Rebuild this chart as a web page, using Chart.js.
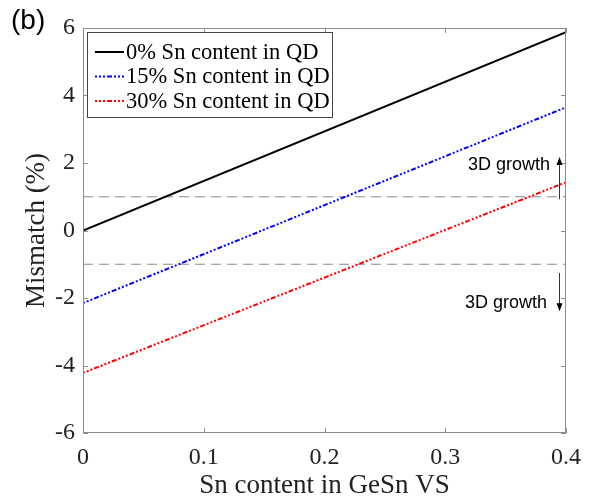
<!DOCTYPE html>
<html>
<head>
<meta charset="utf-8">
<script src="https://cdn.jsdelivr.net/npm/chart.js@4/dist/chart.umd.min.js"></script>
<style>
  html, body { margin: 0; padding: 0; background: #fff; }
  #wrap { width: 593px; height: 502px; position: relative; }
</style>
</head>
<body>
<div id="wrap"><canvas id="myChart"></canvas></div>
<script>
// data
const snVS = [0, 0.4];
const qd0 = [0, 5.88];
const qd15 = [-2.15, 3.65];
const qd30 = [-4.22, 1.43];
const growthLimits = [1, -1];
const xTicks = [0, 0.1, 0.2, 0.3, 0.4];
const yTicks = [-6, -4, -2, 0, 2, 4, 6];
const seriesNames = ['0% Sn content in QD', '15% Sn content in QD', '30% Sn content in QD'];

const serif = '"Liberation Serif", "Times New Roman", serif';
const sans = '"Liberation Sans", Arial, sans-serif';
const frameColor = '#8c8c8c';

function pts(ys) {
    return snVS.map((x, i) => ({ x: x, y: ys[i] }));
}

const dotDash = [2, 2, 2, 2, 2, 2, 5, 2];
const lineStyles = [
    { color: '#000000', dash: [] },
    { color: '#0000ff', dash: dotDash },
    { color: '#ff0000', dash: dotDash }
];

const datasets = [qd0, qd15, qd30].map((ys, i) => ({
    label: seriesNames[i],
    data: pts(ys),
    borderColor: lineStyles[i].color,
    borderDash: lineStyles[i].dash,
    borderWidth: 2,
    pointRadius: 0,
    fill: false
}));
growthLimits.forEach(v => {
    datasets.push({
        label: 'limit',
        data: snVS.map(x => ({ x: x, y: v })),
        borderColor: '#8a8a8a',
        borderDash: [10, 6],
        borderWidth: 1,
        pointRadius: 0,
        fill: false
    });
});

// frame, inner ticks, legend box, annotations
const decor = {
    id: 'decor',
    afterDatasetsDraw(chart) {
        const ctx = chart.ctx;
        const a = chart.chartArea;
        const xs = chart.scales.x, ys = chart.scales.y;
        ctx.save();
        ctx.strokeStyle = frameColor;
        ctx.lineWidth = 1;
        ctx.setLineDash([]);
        ctx.strokeRect(a.left + 0.5, a.top + 0.5, a.right - a.left - 1, a.bottom - a.top - 1);
        ctx.beginPath();
        xTicks.forEach(t => {
            const px = Math.round(xs.getPixelForValue(t)) + 0.5;
            ctx.moveTo(px, a.bottom); ctx.lineTo(px, a.bottom - 5);
            ctx.moveTo(px, a.top); ctx.lineTo(px, a.top + 5);
        });
        yTicks.forEach(t => {
            const py = Math.round(ys.getPixelForValue(t)) + 0.5;
            ctx.moveTo(a.left, py); ctx.lineTo(a.left + 5, py);
            ctx.moveTo(a.right, py); ctx.lineTo(a.right - 5, py);
        });
        ctx.stroke();

        // legend
        const lx = 87, ly = 32, lw = 245, lh = 85;
        ctx.fillStyle = '#fff';
        ctx.fillRect(lx, ly, lw, lh);
        ctx.strokeStyle = '#444';
        ctx.strokeRect(lx + 0.5, ly + 0.5, lw, lh);
        ctx.font = '22.5px ' + serif;
        ctx.textBaseline = 'middle';
        seriesNames.forEach((name, i) => {
            const y = ly + 20 + i * 24.5;
            ctx.strokeStyle = lineStyles[i].color;
            ctx.lineWidth = 2;
            ctx.setLineDash(lineStyles[i].dash);
            ctx.beginPath();
            ctx.moveTo(lx + 8, y); ctx.lineTo(lx + 37, y);
            ctx.stroke();
            ctx.fillStyle = '#000';
            ctx.fillText(name, lx + 39, y + 1);
        });
        ctx.setLineDash([]);

        // 3D growth annotations
        const ax = a.right - 7;
        ctx.strokeStyle = '#333';
        ctx.fillStyle = '#000';
        ctx.lineWidth = 1;
        const upFrom = ys.getPixelForValue(0.93), upTo = ys.getPixelForValue(2.15);
        const dnFrom = ys.getPixelForValue(-1.26), dnTo = ys.getPixelForValue(-2.36);
        ctx.beginPath();
        ctx.moveTo(ax + 0.5, upFrom); ctx.lineTo(ax + 0.5, upTo);
        ctx.moveTo(ax + 0.5, dnFrom); ctx.lineTo(ax + 0.5, dnTo);
        ctx.stroke();
        ctx.beginPath();
        ctx.moveTo(ax + 0.5, upTo - 1); ctx.lineTo(ax - 2.5, upTo + 7); ctx.lineTo(ax + 3.5, upTo + 7); ctx.closePath();
        ctx.moveTo(ax + 0.5, dnTo + 1); ctx.lineTo(ax - 2.5, dnTo - 7); ctx.lineTo(ax + 3.5, dnTo - 7); ctx.closePath();
        ctx.fill();
        ctx.font = '18px ' + sans;
        ctx.textAlign = 'right';
        ctx.fillText('3D growth', 550, ys.getPixelForValue(1.94));
        ctx.fillText('3D growth', 547, ys.getPixelForValue(-2.15));

        // panel tag
        ctx.textAlign = 'left';
        ctx.textBaseline = 'alphabetic';
        ctx.font = '28px ' + sans;
        ctx.fillText('(b)', 11, 29);
        ctx.restore();
    }
};

const ctx = document.getElementById('myChart').getContext('2d');
const myChart = new Chart(ctx, {
    type: 'line',
    data: { datasets: datasets },
    options: {
        responsive: true,
        maintainAspectRatio: false,
        animation: false,
        layout: { padding: { top: 28, right: 27, left: 0, bottom: 0 } },
        plugins: {
            legend: { display: false },
            tooltip: { enabled: false }
        },
        scales: {
            x: {
                type: 'linear',
                min: 0,
                max: 0.4,
                afterBuildTicks: s => { s.ticks = xTicks.map(v => ({ value: v })); },
                afterFit: s => { s.height = 69; },
                grid: { display: false, drawTicks: false },
                border: { display: false },
                ticks: {
                    color: '#222',
                    font: { family: serif, size: 24 },
                    padding: 10,
                    maxRotation: 0,
                    callback: v => String(v)
                },
                title: {
                    display: true,
                    text: 'Sn content in GeSn VS',
                    color: '#222',
                    font: { family: serif, size: 27 },
                    padding: { top: 0, bottom: 0 }
                }
            },
            y: {
                type: 'linear',
                min: -6,
                max: 6,
                afterBuildTicks: s => { s.ticks = yTicks.map(v => ({ value: v })); },
                afterFit: s => { s.width = 83; },
                grid: { display: false, drawTicks: false },
                border: { display: false },
                ticks: {
                    color: '#222',
                    font: { family: serif, size: 24 },
                    padding: 8,
                    callback: v => String(v)
                },
                title: {
                    display: true,
                    text: 'Mismatch (%)',
                    color: '#222',
                    font: { family: serif, size: 27 },
                    padding: { top: 21, bottom: 0 }
                }
            }
        }
    },
    plugins: [decor]
});
</script>
</body>
</html>
